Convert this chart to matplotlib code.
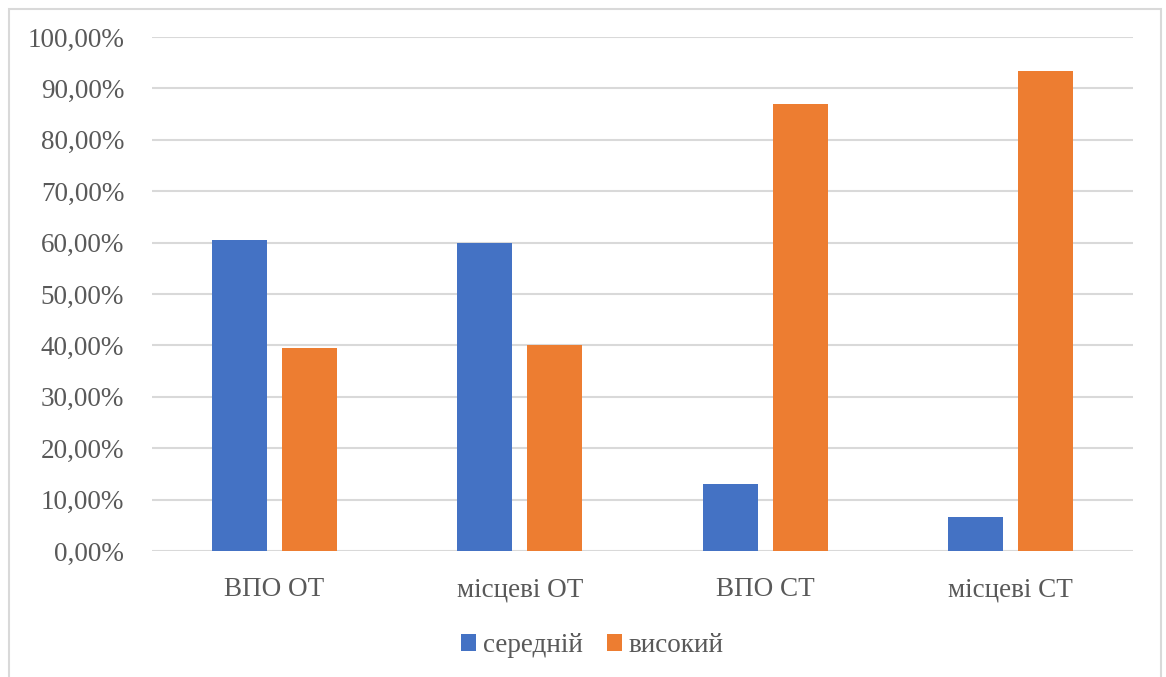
import numpy as np
import matplotlib.pyplot as plt
from matplotlib.patches import Rectangle
from matplotlib.ticker import FuncFormatter

plt.rcParams['font.family'] = ['Liberation Serif', 'DejaVu Serif']

# ==== Data ====
categories = ['ВПО ОТ', 'місцеві ОТ', 'ВПО СТ', 'місцеві СТ']
medium = [60.47, 60.0, 13.04, 6.67]
high = [39.53, 40.0, 86.96, 93.33]
series_names = ['середній', 'високий']
colors = ['#4472C4', '#ED7D31']
text_color = '#595959'
grid_color = '#D9D9D9'

fig = plt.figure(figsize=(11.66, 6.77), dpi=100)

# chart area frame
fig.patches.append(Rectangle((9 / 1166, -0.01), 1152 / 1166, 1 - 9 / 677 + 0.01,
                             transform=fig.transFigure, fill=False,
                             edgecolor=grid_color, linewidth=1.5))

ax = fig.add_axes([152 / 1166, 1 - 551 / 677, (1133 - 152) / 1166, (551 - 37) / 677])

x = np.arange(len(categories))
width = 0.2245
offset = 0.1429
ax.bar(x - offset, medium, width, color=colors[0], label=series_names[0], zorder=3)
ax.bar(x + offset, high, width, color=colors[1], label=series_names[1], zorder=3)

ax.set_xlim(-0.5, len(categories) - 0.5)
ax.set_ylim(0, 100)
ax.set_yticks(np.arange(0, 101, 10))
ax.yaxis.set_major_formatter(FuncFormatter(lambda v, p: f'{v:.2f}%'.replace('.', ',')))
ax.set_xticks(x)
ax.set_xticklabels(categories)

ax.grid(axis='y', color=grid_color, linewidth=1.5, zorder=0)
for s in ax.spines.values():
    s.set_visible(False)
ax.tick_params(axis='both', length=0, labelsize=19.5, colors=text_color)
ax.tick_params(axis='y', pad=20)
ax.tick_params(axis='x', pad=19)

ax.legend(loc='center', bbox_to_anchor=(0.449, -0.184), ncol=2, frameon=False,
          fontsize=19.5, labelcolor=text_color, handlelength=0.55, handleheight=0.55,
          handletextpad=0.25, columnspacing=0.9)

fig.savefig('out.png', dpi=100)
